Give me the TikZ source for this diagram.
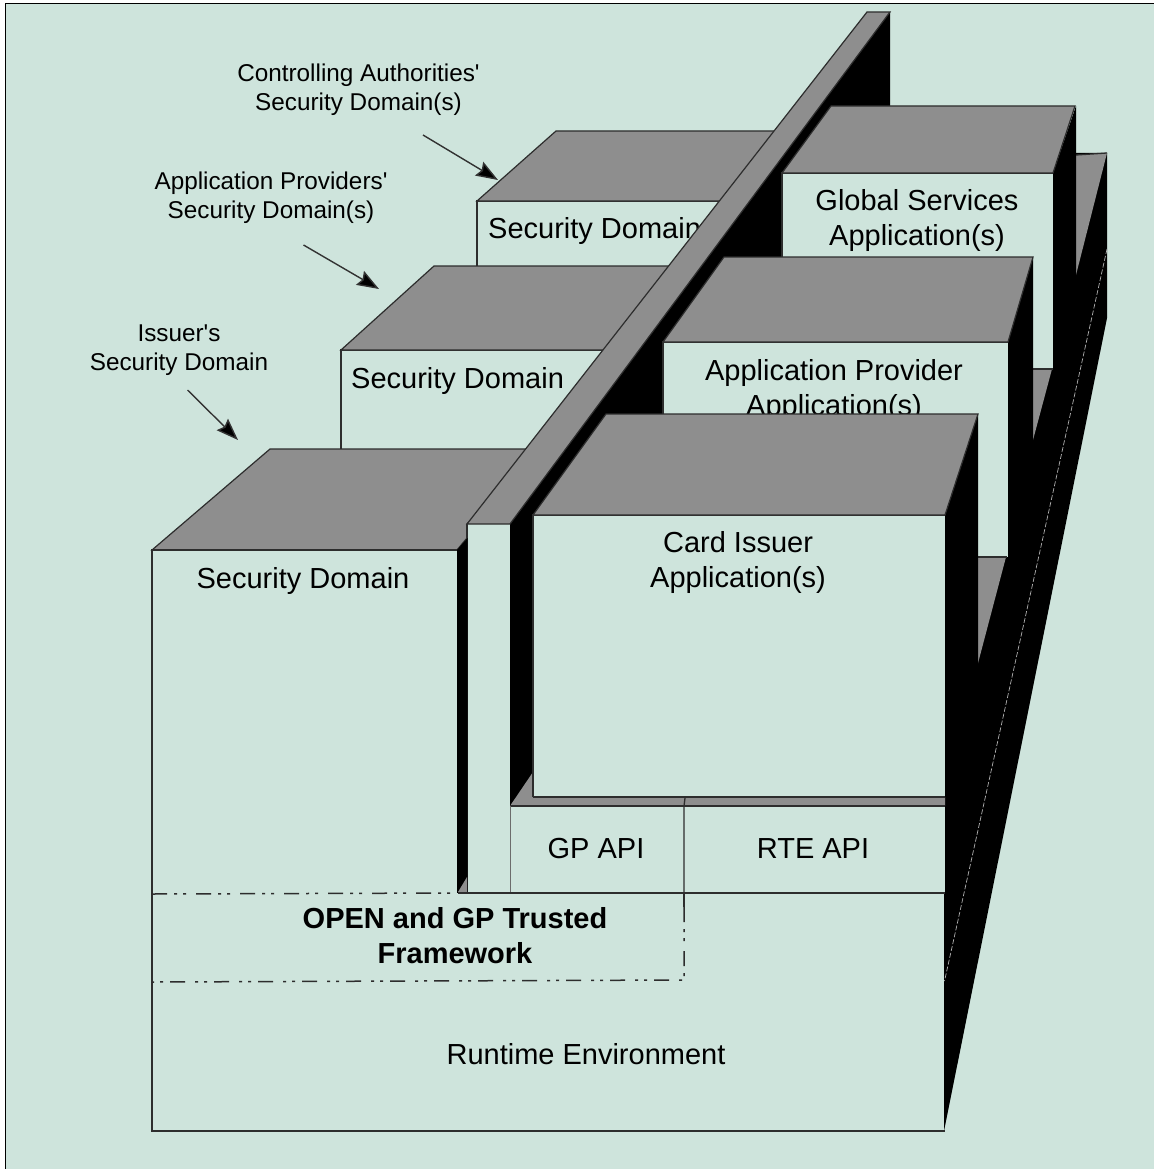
\documentclass[tikz,border=0pt]{standalone}
\usepackage{fontspec}
\setmainfont{Liberation Sans}
\usetikzlibrary{arrows.meta}
\definecolor{paneBg}{RGB}{206,228,220}
\definecolor{topGrey}{RGB}{142,142,142}
\definecolor{edgeGrey}{RGB}{45,45,45}
\tikzset{
  frontfill/.style={fill=paneBg},
  topface/.style={fill=topGrey, draw=edgeGrey, line width=1.2pt, line join=miter},
  floorface/.style={fill=topGrey},
  sideface/.style={fill=black},
  edge/.style={draw=edgeGrey, line width=1.3pt},
  frameline/.style={edge, line width=1.5pt, dash pattern=on 15pt off 7pt on 3pt off 6pt on 3pt off 10pt},
  biglabel/.style={font=\fontsize{29}{35}\selectfont, align=center, inner sep=0pt},
  smalllabel/.style={font=\fontsize{24.3}{29}\selectfont, align=center, inner sep=0pt},
  pointer/.style={-{Stealth[inset=3pt,length=22pt,width=16pt,fill=black]}, draw=black!80, line width=1.4pt}
}
\begin{document}
\begin{tikzpicture}[x=1pt, y=-1pt]
  \useasboundingbox (0,0) rectangle (1153,1169);
  \fill[white] (0,0) rectangle (1153,1169);
  \draw[fill=paneBg, draw=black, line width=1.5pt] (5.5,3.5) -- (1160,3.5) -- (1160,1175) -- (5.5,1175) -- cycle;

  % security domain at the back
  \fill[frontfill] (477,201) rectangle (760,266);
  \draw[edge] (477,266) -- (477,201) -- (760,201);
  \draw[topface] (477,201) -- (556,131) -- (800,131) -- (760,201) -- cycle;
  \node[biglabel, anchor=west] (sdBack) at (488,231) {Security Domain};

  % dark side of the wall and of the whole card
  \fill[sideface] (510,524) -- (890,12) -- (890,300) -- (510,806) -- cycle;
  \fill[sideface] (1076,153) -- (1107,153) -- (1107,318) -- (944,1131) -- (944,500) -- (1076,275) -- cycle;
  \draw[draw=white!70!black, line width=0.7pt, dash pattern=on 5pt off 2pt] (1107,249) -- (944.5,981);
  \fill[floorface] (1076,155) -- (1107,153) -- (1076,275) -- cycle;
  \draw[edge] (1076,155) -- (1107,153);

  % global services
  \fill[sideface] (1053,173) -- (1076,106) -- (1076,290) -- (1053,400) -- cycle;
  \fill[frontfill] (782,173) rectangle (1053,369);
  \draw[edge] (782,257) -- (782,173) -- (1053,173);
  \draw[topface] (782,173) -- (831,106) -- (1075,106) -- (1053,173) -- cycle;
  \node[biglabel] (globalApp) at (917,220.5) {Global Services\\Application(s)};
  \fill[floorface] (1033,369) -- (1052,369) -- (1033,440) -- cycle;
  \draw[edge] (1033,369) -- (1053,369);

  % application provider
  \fill[sideface] (1008,342) -- (1033,257) -- (1033,460) -- (1008,570) -- cycle;
  \fill[frontfill] (663,342) rectangle (1008,557);
  \draw[edge] (663,414) -- (663,342) -- (1008,342);
  \draw[topface] (663,342) -- (724,257) -- (1033,257) -- (1008,342) -- cycle;
  \node[biglabel] (providerApp) at (834,390) {Application Provider\\Application(s)};
  \fill[floorface] (977,557) -- (1006,557) -- (977,667) -- cycle;
  \draw[edge] (977,557) -- (1007,557);

  % card issuer
  \fill[sideface] (945,515) -- (978,414) -- (978,680) -- (945,830) -- cycle;
  \fill[floorface] (510,806) -- (533,772) -- (533,797) -- (945,797) -- (945,806) -- cycle;
  \fill[frontfill] (533,515) rectangle (945,797);
  \draw[edge] (533,797) -- (533,515) -- (945,515);
  \draw[edge] (533,797) -- (945,797);
  \draw[topface] (533,515) -- (606,414) -- (978,414) -- (945,515) -- cycle;
  \node[biglabel] (issuerApp) at (738,562.5) {Card Issuer\\Application(s)};

  % second security domain
  \fill[frontfill] (341,350) -- (610,350) -- (530,449) -- (341,449) -- cycle;
  \draw[edge] (341,449) -- (341,350) -- (610,350);
  \draw[topface] (341,350) -- (434,266) -- (680,266) -- (610,350) -- cycle;
  \node[biglabel, anchor=west] (sdMiddle) at (351,381) {Security Domain};

  % first security domain
  \draw[topface] (152,550) -- (270,449) -- (540,449) -- (467,524) -- (467,538) -- (457,550) -- cycle;

  % wall
  \fill[frontfill] (467,524) rectangle (510,893);
  \draw[edge] (467,893) -- (467,524);
  \draw[topface] (467,524) -- (867,12) -- (890,12) -- (510,524) -- cycle;

  % front of the first security domain and its side
  \fill[frontfill] (152,550) rectangle (457,893);
  \draw[edge] (152,893) -- (152,550) -- (457,550);
  \fill[sideface] (457,550) -- (467.5,538) -- (467.5,893) -- (457,893) -- cycle;
  \fill[floorface] (458,892) -- (467,892) -- (467,877) -- cycle;
  \node[biglabel] (sdFront) at (303,581) {Security Domain};

  % api layer
  \fill[frontfill] (510,806) rectangle (945,893);
  \draw[edge] (510,806) -- (945,806);
  \draw[draw=edgeGrey!70, line width=1pt] (510,806) -- (510,893);
  \draw[edge] (685,798) -- (684,806) -- (684,907);
  \node[biglabel] (gpApi) at (596,849) {GP API};
  \node[biglabel] (rteApi) at (813,849) {RTE API};

  % runtime block and the framework outline
  \fill[frontfill] (152,893) rectangle (944,1131);
  \draw[edge] (152,893) -- (152,1131) -- (945,1131);
  \draw[edge] (458,893) -- (945,893);
  \draw[edge] (684,893) -- (684,907);
  \draw[frameline] (152,894) -- (458,893);
  \draw[frameline] (684,907) -- (684,980) -- (152,982);
  \node[biglabel, font=\fontsize{29}{35}\selectfont\bfseries] (gpFramework) at (455,935.5) {OPEN and GP Trusted\\Framework};
  \node[biglabel] (runtimeEnv) at (586,1054) {Runtime Environment};

  % labels on the left with their arrows
  \node[smalllabel] (controlLabel) at (358.5,89.5) {Controlling Authorities\textquotesingle\\Security Domain(s)};
  \node[smalllabel] (providerLabel) at (271,197.5) {Application Providers\textquotesingle\\Security Domain(s)};
  \node[smalllabel] (issuerLabel) at (179,350) {Issuer\textquotesingle s\\Security Domain};
  \coordinate (controlTail) at (423,135);
  \coordinate (controlHead) at (498,180);
  \coordinate (providerTail) at (303.5,245);
  \coordinate (providerHead) at (379,289);
  \coordinate (issuerTail) at (187.5,390);
  \coordinate (issuerHead) at (238,440);
  \draw[pointer] (controlTail) -- (controlHead);
  \draw[pointer] (providerTail) -- (providerHead);
  \draw[pointer] (issuerTail) -- (issuerHead);
\end{tikzpicture}
\end{document}
